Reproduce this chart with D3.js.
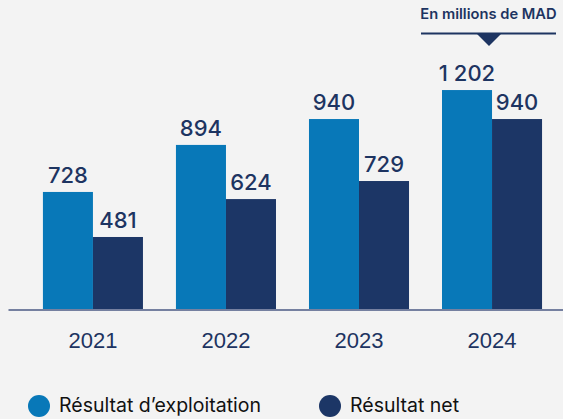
<!doctype html>
<html lang="fr">
<head>
  <meta charset="utf-8">
  <title>Résultats</title>
  <script src="https://d3js.org/d3.v7.min.js"></script>
  <style>
    body { margin: 0; background: #f3f3f3; }
    svg { display: block; font-family: 'Inter', 'Noto Sans', sans-serif; }
    .axis text { fill: #1d3461; font-size: 22px; font-weight: 500; }
    .axis path { stroke: #4b5a85; stroke-width: 1.5; }
  </style>
</head>
<body>
  <div id="chart"></div>
  <script>
    // years and the printed values (millions de MAD)
    var years = ['2021', '2022', '2023', '2024'];
    var exploitation = [728, 894, 940, 1202];
    var net = [481, 624, 729, 940];
    // bar heights as drawn in the picture (not to scale with the labels)
    var exploitationDrawn = [642, 900, 1042, 1201];
    var netDrawn = [395, 603, 702, 1042];
    var seriesNames = ['Résultat d\u2019exploitation', 'Résultat net'];
    var colors = ['#0878b8', '#1c3666'];

    var width = 563, height = 419, baseline = 309;

    var svg = d3.select('#chart').append('svg')
      .attr('width', width)
      .attr('height', height);

    var x = d3.scaleBand()
      .domain(years)
      .range([8, 563])
      .paddingInner(0.248)
      .paddingOuter(0.21)
      .align(0.625);

    var xs = d3.scaleBand()
      .domain([0, 1])
      .range([0, x.bandwidth()]);

    var y = d3.scaleLinear()
      .domain([0, 1300])
      .range([baseline, 72]);

    var rows = years.map(function(yr, i) {
      return [
        {year: yr, s: 0, value: exploitation[i], drawn: exploitationDrawn[i]},
        {year: yr, s: 1, value: net[i], drawn: netDrawn[i]}
      ];
    });

    var groups = svg.selectAll('.grp')
      .data(rows)
      .enter().append('g')
      .attr('class', 'grp')
      .attr('transform', function(d, i) { return 'translate(' + x(years[i]) + ',0)'; });

    groups.selectAll('rect')
      .data(function(d) { return d; })
      .enter().append('rect')
      .attr('x', function(d) { return xs(d.s); })
      .attr('y', function(d) { return y(d.drawn); })
      .attr('width', xs.bandwidth())
      .attr('height', function(d) { return baseline - y(d.drawn); })
      .attr('fill', function(d) { return colors[d.s]; });

    groups.selectAll('text')
      .data(function(d) { return d; })
      .enter().append('text')
      .attr('x', function(d) { return xs(d.s) + xs.bandwidth() / 2; })
      .attr('y', function(d) { return y(d.drawn) - 9; })
      .attr('text-anchor', 'middle')
      .style('fill', '#1d3461')
      .style('font-size', '22px')
      .style('font-weight', 500)
      .text(function(d) { return d3.format(',')(d.value).replace(',', ' '); });

    svg.append('g')
      .attr('class', 'axis')
      .attr('transform', 'translate(0,' + (baseline + 0.5) + ')')
      .call(d3.axisBottom(x).tickSize(0).tickSizeOuter(0).tickPadding(23));

    // unit note top right
    var note = svg.append('g');
    note.append('text')
      .attr('x', 488.5)
      .attr('y', 19)
      .attr('text-anchor', 'middle')
      .style('fill', '#1d3461')
      .style('font-size', '14.7px')
      .style('font-weight', 600)
      .text('En millions de MAD');
    note.append('line')
      .attr('x1', 421).attr('x2', 556)
      .attr('y1', 33.5).attr('y2', 33.5)
      .attr('stroke', '#1d3461')
      .attr('stroke-width', 2);
    note.append('path')
      .attr('d', 'M476,33 L502,33 L489,46 Z')
      .attr('fill', '#1d3461');

    // legend
    var legendX = [39, 330];
    var legend = svg.selectAll('.leg')
      .data(seriesNames)
      .enter().append('g')
      .attr('class', 'leg')
      .attr('transform', function(d, i) { return 'translate(' + legendX[i] + ',406)'; });
    legend.append('circle')
      .attr('r', 11)
      .attr('fill', function(d, i) { return colors[i]; });
    legend.append('text')
      .attr('x', 20)
      .attr('y', 6)
      .style('fill', '#111')
      .style('font-size', '19.5px')
      .text(function(d) { return d; });
  </script>
</body>
</html>
